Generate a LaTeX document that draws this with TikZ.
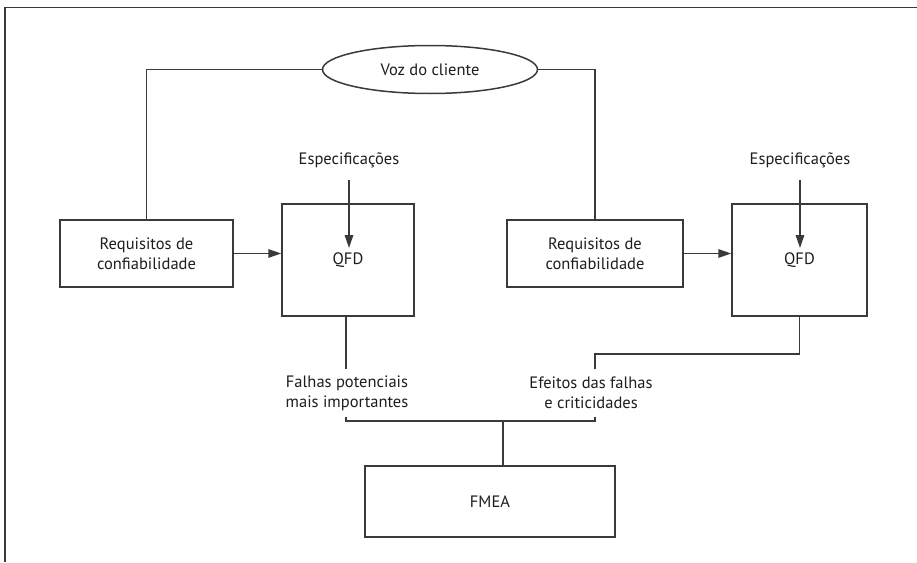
\documentclass[tikz,border=0pt]{standalone}
\usepackage{fontspec}
\setmainfont{PT Sans}
\usetikzlibrary{shapes.geometric,arrows.meta}
\definecolor{ln}{HTML}{3A3A3A}
\definecolor{tx}{HTML}{1E1E1E}
\begin{document}
\begin{tikzpicture}[x=1pt,y=-1pt,
  every node/.style={text=tx,font=\fontsize{16.5}{20}\selectfont},
  conn/.style={draw=ln,line width=1.5pt},
  arr/.style={conn,-{Triangle[length=13pt,width=8.5pt]}},
  boxr/.style={draw=ln,line width=1.5pt,rectangle,inner sep=0pt,align=center},
  lbl/.style={align=center,inner sep=2pt}]
\useasboundingbox (0,0) rectangle (917,562);
\fill[white] (0,0) rectangle (917,562);
% frame
\draw[conn] (5,562) -- (5,7.5) -- (917,7.5);
% nodes
\node[draw=ln,line width=1.5pt,ellipse,minimum width=215pt,minimum height=48pt,inner sep=0pt] (voz) at (430,69.5) {Voz do cliente};
\node[boxr,minimum width=173pt,minimum height=67pt] (req1) at (146.5,253.5) {Requisitos de\\confiabilidade};
\node[boxr,minimum width=132pt,minimum height=112pt] (qfd1) at (348,260) {QFD};
\node[lbl] (esp1) at (349,160) {Especificações};
\node[boxr,minimum width=176pt,minimum height=67pt] (req2) at (595,253.5) {Requisitos de\\confiabilidade};
\node[boxr,minimum width=135pt,minimum height=112pt] (qfd2) at (799.5,260) {QFD};
\node[lbl] (esp2) at (800,160) {Especificações};
\node[lbl] (falhas) at (347,393) {Falhas potenciais\\mais importantes};
\node[lbl] (efeitos) at (591,393) {Efeitos das falhas\\e criticidades};
\node[boxr,minimum width=250pt,minimum height=71pt] (fmea) at (490,501.5) {FMEA};
% helper coordinates
\coordinate (e1s) at (349,180);
\coordinate (e1t) at (349,248);
\coordinate (e2s) at (800,180);
\coordinate (e2t) at (800,248);
\coordinate (f1) at (346,369);
\coordinate (q2a) at (799.5,354);
\coordinate (b2t) at (595,354);
\coordinate (b2b) at (595,369);
\coordinate (bl) at (346,417);
\coordinate (blb) at (346,421);
\coordinate (brb) at (595,421);
\coordinate (br) at (595,417);
\coordinate (bm) at (503,421);
% connectors
\draw[conn] (voz.west) -| (req1.north);
\draw[conn] (voz.east) -| (req2.north);
\draw[arr] (req1.east) -- (qfd1.west |- req1.east);
\draw[arr] (req2.east) -- (qfd2.west |- req2.east);
\draw[arr] (e1s) -- (e1t);
\draw[arr] (e2s) -- (e2t);
\draw[conn] (qfd1.south -| f1) -- (f1);
\draw[conn] (qfd2.south) -- (q2a) -- (b2t) -- (b2b);
\draw[conn] (bl) -- (blb) -- (brb) -- (br);
\draw[conn] (bm) -- (bm |- fmea.north);
\end{tikzpicture}
\end{document}
